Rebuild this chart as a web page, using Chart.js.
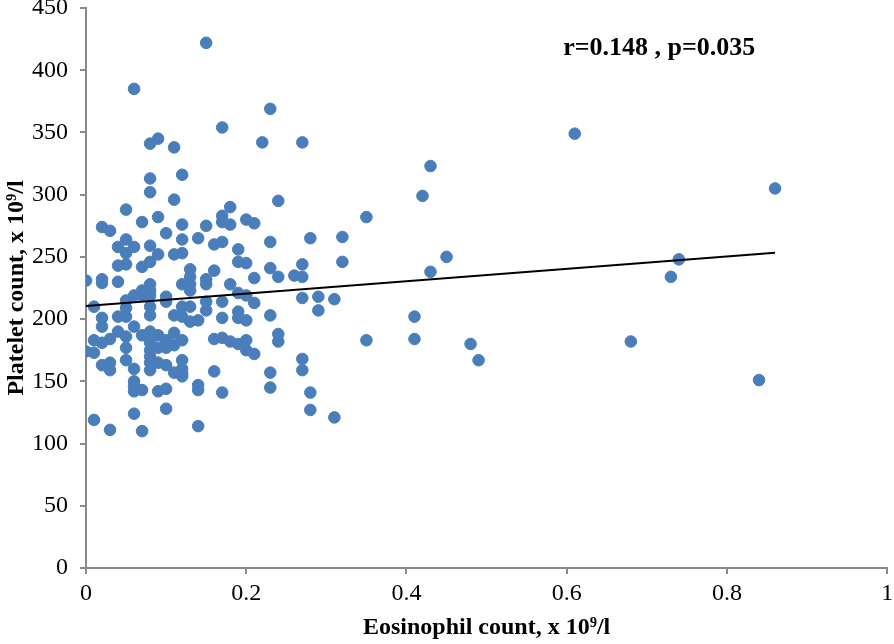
<!DOCTYPE html>
<html>
<head>
<meta charset="utf-8">
<script src="https://cdn.jsdelivr.net/npm/chart.js@4.4.1/dist/chart.umd.min.js"></script>
<style>
  html, body { margin: 0; padding: 0; background: #fff; }
  #wrap { width: 894px; height: 644px; }
</style>
</head>
<body>
<div id="wrap"><canvas id="chart" width="894" height="644"></canvas></div>
<script>
// eosinophil count (x 10^9/l) and platelet count (x 10^9/l), paired by index
const eosinophil = [
  0.15, 0.06, 0.23, 0.17, 0.09, 0.08, 0.11, 0.22, 0.12, 0.08,
  0.08, 0.11, 0.24, 0.27, 0.18, 0.17, 0.17, 0.15, 0.18, 0.20,
  0.21, 0.35, 0.14, 0.16, 0.17, 0.23, 0.28, 0.32, 0.19, 0.19,
  0.20, 0.32, 0.16, 0.23, 0.24, 0.27, 0.26, 0.27, 0.21, 0.15,
  0.15, 0.18, 0.19, 0.20, 0.15, 0.15, 0.17, 0.21, 0.27, 0.29,
  0.29, 0.31, 0.14, 0.17, 0.19, 0.19, 0.20, 0.23, 0.16, 0.17,
  0.18, 0.19, 0.20, 0.20, 0.21, 0.24, 0.24, 0.35, 0.27, 0.27,
  0.16, 0.23, 0.23, 0.14, 0.14, 0.17, 0.28, 0.28, 0.31, 0.14,
  0.43, 0.42, 0.43, 0.41, 0.41, 0.61, 0.86, 0.45, 0.74, 0.73,
  0.48, 0.49, 0.68, 0.84, 0.05, 0.07, 0.09, 0.12, 0.02, 0.03,
  0.10, 0.12, 0.05, 0.04, 0.06, 0.08, 0.05, 0.05, 0.09, 0.08,
  0.07, 0.04, 0.11, 0.12, 0.13, 0.00, 0.02, 0.02, 0.04, 0.12,
  0.13, 0.13, 0.08, 0.07, 0.06, 0.05, 0.08, 0.08, 0.07, 0.10,
  0.10, 0.12, 0.08, 0.08, 0.01, 0.05, 0.05, 0.04, 0.02, 0.02,
  0.06, 0.11, 0.13, 0.04, 0.05, 0.07, 0.08, 0.09, 0.10, 0.11,
  0.11, 0.08, 0.08, 0.08, 0.08, 0.08, 0.01, 0.00, 0.01, 0.02,
  0.03, 0.05, 0.02, 0.03, 0.05, 0.10, 0.12, 0.12, 0.06, 0.03,
  0.11, 0.12, 0.12, 0.06, 0.06, 0.06, 0.07, 0.09, 0.10, 0.01,
  0.06, 0.10, 0.03, 0.07, 0.12, 0.09, 0.10, 0.12, 0.09, 0.13, 0.13
];
const platelet = [
  422, 385, 369, 354, 345, 341, 338, 342, 316, 313,
  302, 296, 295, 342, 290, 283, 278, 275, 276, 280,
  277, 282, 265, 260, 262, 262, 265, 266, 256, 246,
  245, 246, 239, 241, 234, 244, 235, 234, 233, 232,
  228, 228, 221, 219, 214, 207, 214, 213, 217, 218,
  207, 216, 199, 201, 206, 201, 199, 203, 184, 185,
  182, 180, 183, 175, 172, 188, 182, 183, 168, 159,
  158, 157, 145, 147, 143, 141, 141, 127, 121, 114,
  323, 299, 238, 202, 184, 349, 305, 250, 248, 234,
  180, 167, 182, 151, 288, 278, 282, 276, 274, 271,
  269, 264, 264, 258, 258, 259, 253, 244, 252, 246,
  242, 243, 252, 253, 240, 231, 232, 229, 230, 228,
  234, 223, 228, 223, 219, 215, 223, 219, 219, 218,
  214, 210, 210, 203, 210, 209, 202, 202, 201, 194,
  194, 203, 198, 190, 186, 187, 190, 187, 183, 189,
  179, 181, 175, 170, 165, 159, 183, 174, 173, 181,
  184, 177, 163, 165, 167, 163, 167, 160, 160, 159,
  157, 156, 154, 150, 146, 142, 143, 142, 144, 119,
  124, 128, 111, 110, 202, 177, 177, 183, 165, 228, 210
];

// linear trend line at its two ends
const trendX = [0, 0.86];
const trendY = [210.6, 253.4];

const xTickLabels = ['0', '0.2', '0.4', '0.6', '0.8', '1'];
const yTickLabels = ['0', '50', '100', '150', '200', '250', '300', '350', '400', '450'];

const statText = 'r=0.148 , p=0.035';
const statPos = [0.7155, 418];

const serif = '"Liberation Serif", "Times New Roman", serif';
const axisGrey = '#8a8a8a';

const points = eosinophil.map((v, i) => ({ x: v, y: platelet[i] }));
const trend = trendX.map((v, i) => ({ x: v, y: trendY[i] }));

const statPlugin = {
  id: 'statText',
  afterDatasetsDraw(chart) {
    const { ctx, scales } = chart;
    ctx.save();
    ctx.font = 'bold 26px ' + serif;
    ctx.fillStyle = '#000';
    ctx.textAlign = 'center';
    ctx.textBaseline = 'middle';
    ctx.fillText(statText, scales.x.getPixelForValue(statPos[0]), scales.y.getPixelForValue(statPos[1]));
    ctx.restore();
  }
};

new Chart(document.getElementById('chart'), {
  type: 'scatter',
  data: {
    datasets: [
      {
        type: 'line',
        data: trend,
        borderColor: '#000',
        borderWidth: 2,
        pointRadius: 0,
        fill: false,
        order: 0
      },
      {
        data: points,
        backgroundColor: '#4a7ebb',
        borderColor: '#4a7ebb',
        borderWidth: 1,
        pointRadius: 5.8,
        order: 1
      }
    ]
  },
  options: {
    responsive: false,
    animation: false,
    devicePixelRatio: 1,
    layout: { padding: { top: 8, right: 3, left: 0, bottom: 0 } },
    plugins: {
      legend: { display: false },
      tooltip: { enabled: false }
    },
    scales: {
      x: {
        type: 'linear',
        min: 0,
        max: 1,
        afterFit: s => { s.height = 76; s.paddingLeft = 0; s.paddingRight = 0; },
        ticks: {
          stepSize: 0.2,
          padding: 5,
          color: '#000',
          font: { family: serif, size: 24 },
          callback: (v, i) => xTickLabels[i]
        },
        grid: { drawOnChartArea: false, tickLength: 6, color: axisGrey, lineWidth: 2 },
        border: { color: axisGrey, width: 2 },
        title: {
          display: true,
          text: 'Eosinophil count, x 10⁹/l',
          color: '#000',
          padding: { top: 2, bottom: 2 },
          font: { family: serif, size: 24, weight: 'bold' }
        }
      },
      y: {
        min: 0,
        max: 450,
        afterFit: s => { s.width = 86; s.paddingTop = 0; s.paddingBottom = 0; },
        ticks: {
          stepSize: 50,
          padding: 12,
          color: '#000',
          font: { family: serif, size: 24 },
          callback: (v, i) => yTickLabels[i]
        },
        grid: { drawOnChartArea: false, tickLength: 6, color: axisGrey, lineWidth: 2 },
        border: { color: axisGrey, width: 2 },
        title: {
          display: true,
          text: 'Platelet count, x 10⁹/l',
          color: '#000',
          padding: { top: 2, bottom: 2 },
          font: { family: serif, size: 24, weight: 'bold' }
        }
      }
    }
  },
  plugins: [statPlugin]
});
</script>
</body>
</html>
